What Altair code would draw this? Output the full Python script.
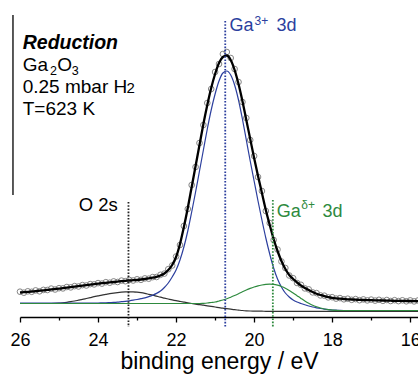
import altair as alt
import pandas as pd

# ---------------- data ----------------
energy = [
    26.0, 25.9, 25.8, 25.7, 25.6, 25.5, 25.4, 25.3, 25.2, 25.1,
    25.0, 24.9, 24.8, 24.7, 24.6, 24.5, 24.4, 24.3, 24.2, 24.1,
    24.0, 23.9, 23.8, 23.7, 23.6, 23.5, 23.4, 23.3, 23.2, 23.1,
    23.0, 22.9, 22.8, 22.7, 22.6, 22.5, 22.4, 22.3, 22.2, 22.1,
    22.0, 21.9, 21.8, 21.7, 21.6, 21.5, 21.4, 21.3, 21.2, 21.1,
    21.0, 20.9, 20.8, 20.7, 20.6, 20.5, 20.4, 20.3, 20.2, 20.1,
    20.0, 19.9, 19.8, 19.7, 19.6, 19.5, 19.4, 19.3, 19.2, 19.1,
    19.0, 18.9, 18.8, 18.7, 18.6, 18.5, 18.4, 18.3, 18.2, 18.1,
    18.0, 17.9, 17.8, 17.7, 17.6, 17.5, 17.4, 17.3, 17.2, 17.1,
    17.0, 16.9, 16.8, 16.7, 16.6, 16.5, 16.4, 16.3, 16.2, 16.1,
    16.0, 15.9, 15.8,
]

fit_total = [
    24.5, 24.8, 25.1, 25.5, 25.9, 26.3, 26.7, 27.2, 27.6, 28.0,
    28.4, 28.9, 29.4, 29.9, 30.4, 30.9, 31.4, 31.9, 32.4, 32.9,
    33.3, 33.8, 34.2, 34.6, 35.0, 35.4, 35.8, 36.1, 36.5, 36.8,
    37.1, 37.5, 38.0, 38.6, 39.3, 40.2, 41.5, 43.5, 47.0, 52.0,
    60.0, 73.0, 90.0, 109.0, 130.0, 151.0, 172.0, 193.0, 212.0, 229.0,
    243.0, 254.0, 260.0, 261.5, 257.0, 247.0, 233.0, 216.0, 197.0, 178.0,
    159.0, 141.0, 124.0, 107.0, 92.0, 78.0, 66.0, 56.0, 48.0, 42.0,
    38.0, 34.5, 31.5, 29.0, 27.0, 25.0, 23.3, 22.0, 20.8, 19.9,
    19.2, 18.7, 18.3, 18.0, 17.7, 17.5, 17.3, 17.1, 17.0, 16.9,
    16.8, 16.7, 16.6, 16.5, 16.4, 16.3, 16.2, 16.2, 16.1, 16.0,
    16.0, 15.9, 15.9,
]

counts = [
    25.3, 24.3, 25.7, 25.2, 26.6, 25.7, 27.1, 27.0, 28.4, 27.5,
    28.8, 28.6, 30.0, 29.6, 30.9, 30.5, 31.9, 31.5, 32.9, 32.6,
    33.9, 33.4, 34.8, 34.3, 35.6, 35.0, 36.4, 35.8, 37.1, 36.5,
    37.7, 37.2, 38.6, 38.3, 39.9, 40.0, 42.2, 43.4, 47.8, 51.5,
    60.5, 72.0, 91.0, 108.0, 132.0, 150.0, 174.0, 192.0, 214.0, 228.0,
    245.0, 253.0, 263.0, 265.0, 259.0, 248.0, 235.0, 215.0, 199.0, 177.0,
    161.0, 140.0, 126.0, 106.0, 94.0, 77.0, 67.5, 55.5, 49.0, 41.5,
    38.8, 34.0, 32.2, 28.6, 27.6, 24.6, 23.9, 21.6, 21.3, 19.6,
    19.8, 18.4, 18.9, 17.7, 18.3, 17.2, 17.9, 16.8, 17.6, 16.6,
    17.4, 16.4, 17.2, 16.2, 17.0, 16.0, 16.8, 15.9, 16.7, 15.7,
    16.6, 15.6, 16.5,
]

ga3_fit = [
    14.0, 14.0, 14.0, 14.0, 14.0, 14.0, 14.0, 14.0, 14.0, 14.0,
    14.0, 14.0, 14.0, 14.0, 14.0, 14.0, 14.0, 14.0, 14.0, 14.0,
    14.0, 14.1, 14.2, 14.4, 14.6, 14.9, 15.3, 15.7, 16.2, 16.8,
    17.5, 18.3, 19.2, 20.4, 21.8, 23.6, 26.0, 29.5, 34.0, 40.0,
    47.0, 57.0, 70.0, 86.0, 105.0, 125.0, 146.0, 167.0, 188.0, 207.0,
    223.0, 236.0, 244.0, 246.0, 242.0, 232.0, 217.0, 198.0, 177.0, 156.0,
    136.0, 116.0, 97.0, 79.0, 63.0, 49.0, 38.0, 30.0, 24.0, 20.0,
    17.0, 15.0, 13.5, 12.2, 11.0, 10.0, 9.2, 8.5, 7.9, 7.4,
    7.0, 6.8, 6.6, 6.5, 6.5, 6.5, 6.5, 6.5, 6.5, 6.5,
    6.5, 6.5, 6.5, 6.5, 6.5, 6.5, 6.5, 6.5, 6.5, 6.5,
    6.5, 6.5, 6.5,
]

gad_fit = [
    13.5, 13.5, 13.5, 13.5, 13.5, 13.5, 13.5, 13.5, 13.5, 13.5,
    13.5, 13.5, 13.5, 13.5, 13.5, 13.5, 13.5, 13.5, 13.5, 13.5,
    13.5, 13.5, 13.5, 13.5, 13.5, 13.5, 13.5, 13.5, 13.5, 13.5,
    13.5, 13.5, 13.5, 13.5, 13.5, 13.5, 13.5, 13.5, 13.5, 13.5,
    13.5, 13.5, 13.5, 13.5, 13.5, 13.5, 13.5, 13.7, 14.0, 14.5,
    15.0, 16.0, 17.0, 18.2, 19.8, 21.5, 23.3, 25.2, 27.0, 28.6,
    30.0, 31.2, 32.0, 32.6, 32.8, 32.6, 31.8, 30.5, 28.8, 26.6,
    24.0, 21.3, 18.6, 16.0, 13.7, 11.7, 10.2, 9.0, 8.0, 7.3,
    6.8, 6.6, 6.5, 6.5, 6.5, 6.5, 6.5, 6.5, 6.5, 6.5,
    6.5, 6.5, 6.5, 6.5, 6.5, 6.5, 6.5, 6.5, 6.5, 6.5,
    6.5, 6.5, 6.5,
]

o2s_fit = [
    13.5, 13.5, 13.5, 13.5, 13.5, 13.5, 13.5, 13.5, 13.5, 13.6,
    13.8, 14.2, 14.7, 15.3, 16.0, 16.8, 17.6, 18.5, 19.4, 20.3,
    21.1, 21.9, 22.6, 23.3, 23.9, 24.4, 24.8, 25.1, 25.2, 25.1,
    24.8, 24.3, 23.6, 22.7, 21.8, 20.8, 19.8, 18.9, 18.0, 17.1,
    16.3, 15.6, 14.9, 14.2, 13.5, 12.9, 12.3, 11.8, 11.2, 10.6,
    10.0, 9.4, 8.8, 8.3, 7.8, 7.3, 6.9, 6.5, 6.2, 6.0,
    5.9, 5.8, 5.8, 5.7, 5.7, 5.7, 5.6, 5.6, 5.6, 5.6,
    5.6, 5.6, 5.6, 5.6, 5.6, 5.6, 5.6, 5.6, 5.6, 5.6,
    5.6, 5.6, 5.6, 5.6, 5.6, 5.6, 5.6, 5.6, 5.6, 5.6,
    5.6, 5.6, 5.6, 5.6, 5.6, 5.6, 5.6, 5.6, 5.6, 5.6,
    5.6, 5.6, 5.6,
]

# dotted marker lines (O 2s, Ga3+ 3d, Gad+ 3d)
marker_energy = [23.22, 20.74, 19.52]
marker_top = [115, 296, 117]
marker_bottom = [-10, -10, -10]
marker_color = ["#222222", "#2c3f9e", "#2e8a3e"]

# short left frame stub
stub_energy = [26.18]
stub_top = [302]
stub_bottom = [122]

tick_values = [26, 25, 24, 23, 22, 21, 20, 19, 18, 17, 16]

BLUE = "#2c3f9e"
GREEN = "#2e8a3e"
FONT = "Liberation Sans"

df = pd.DataFrame({
    "energy": energy, "total": fit_total, "counts": counts,
    "ga3": ga3_fit, "gad": gad_fit, "o2s": o2s_fit,
})
markers = pd.DataFrame({"energy": marker_energy, "top": marker_top,
                        "bottom": marker_bottom, "clr": marker_color})
stub = pd.DataFrame({"energy": stub_energy, "top": stub_top, "bottom": stub_bottom})

xscale = alt.Scale(domain=[26, 15.8], nice=False, zero=False)
yscale = alt.Scale(domain=[0, 302], nice=False, zero=False)

x_axis = alt.Axis(
    values=tick_values,
    labelExpr="datum.value % 2 == 0 ? datum.label : ''",
    tickSize={"condition": {"test": "datum.value % 2 != 0", "value": 3}, "value": 5},
    tickWidth=1.3, domainWidth=1.3, domainColor="black", tickColor="black",
    labelFontSize=18, labelFont=FONT, labelColor="black", labelPadding=9,
    labelFlush=False, labelOverlap=False,
    title="binding energy / eV", titleFontSize=23, titleFont=FONT,
    titleFontWeight="normal", titleColor="black",
    titleBaseline="alphabetic", titleY=51,
    grid=False,
)


def X():
    return alt.X("energy:Q", scale=xscale, axis=x_axis)


def Y(field):
    return alt.Y(f"{field}:Q", scale=yscale, axis=None)


base = alt.Chart(df)

o2s_line = base.mark_line(color="#333333", strokeWidth=1.2, interpolate="monotone").encode(x=X(), y=Y("o2s"))
ga3_line = base.mark_line(color=BLUE, strokeWidth=1.2, interpolate="monotone").encode(x=X(), y=Y("ga3"))
gad_line = base.mark_line(color=GREEN, strokeWidth=1.2, interpolate="monotone").encode(x=X(), y=Y("gad"))
pts = base.mark_point(shape="circle", filled=False, color="#7a7a7a", size=32, strokeWidth=1.0, opacity=0.9).encode(x=X(), y=Y("counts"))
tot_line = base.mark_line(color="black", strokeWidth=2.3, interpolate="monotone").encode(x=X(), y=Y("total"))

mark_rules = alt.Chart(markers).mark_rule(strokeDash=[1.6, 1.6], strokeWidth=1.8, clip=False).encode(
    x=X(), y=Y("top"), y2="bottom:Q", color=alt.Color("clr:N", scale=None)
)
stub_rule = alt.Chart(stub).mark_rule(color="black", strokeWidth=1.3, clip=False).encode(
    x=X(), y=Y("top"), y2="bottom:Q"
)

# text pieces: (text, energy anchor, intensity baseline, dx, size, color, weight, style, align)
text_pieces = [
    ("Reduction", 26.0, 267.7, 2.7, 19.5, "black", "bold", "italic", "left"),
    ("Ga", 26.0, 246.3, 2.7, 19, "black", "normal", "normal", "left"),
    ("2", 26.0, 242.0, 30.0, 12.5, "black", "normal", "normal", "left"),
    ("O", 26.0, 246.3, 37.3, 19, "black", "normal", "normal", "left"),
    ("3", 26.0, 242.0, 51.7, 12.5, "black", "normal", "normal", "left"),
    ("0.25 mbar H", 26.0, 224.3, 2.7, 19, "black", "normal", "normal", "left"),
    ("2", 26.0, 224.3, 106.5, 15, "black", "normal", "normal", "left"),
    ("T=623 K", 26.0, 202.0, 2.7, 19, "black", "normal", "normal", "left"),
    ("O 2s", 23.22, 106.3, -10.7, 18.5, "black", "normal", "normal", "right"),
    ("Ga", 20.74, 286.5, 4.3, 18, BLUE, "normal", "normal", "left"),
    ("3+", 20.74, 292.5, 29.3, 12, BLUE, "normal", "normal", "left"),
    ("3d", 20.74, 286.5, 51.3, 18, BLUE, "normal", "normal", "left"),
    ("Ga", 19.52, 100.3, 4.0, 18, GREEN, "normal", "normal", "left"),
    ("δ+", 19.52, 108.0, 28.4, 12, GREEN, "normal", "normal", "left"),
    ("3d", 19.52, 100.3, 49.7, 18, GREEN, "normal", "normal", "left"),
]

text_layers = []
for (t, e, v, dx, sz, col, wt, st, al) in text_pieces:
    tdf = pd.DataFrame({"energy": [e], "val": [v], "label": [t]})
    text_layers.append(
        alt.Chart(tdf).mark_text(
            dx=dx, fontSize=sz, color=col, fontWeight=wt, fontStyle=st,
            align=al, baseline="alphabetic", font=FONT, clip=False,
        ).encode(x=X(), y=Y("val"), text="label:N")
    )

chart = alt.layer(
    o2s_line, ga3_line, gad_line, pts, tot_line, mark_rules, stub_rule, *text_layers
).properties(
    width=398, height=302,
    autosize=alt.AutoSizeParams(type="none"),
    padding={"left": 20, "top": 15, "right": 0, "bottom": 58},
    background="white",
).configure_view(stroke=None)

chart.save("out.html", embed_options={"renderer": "svg", "actions": False})
